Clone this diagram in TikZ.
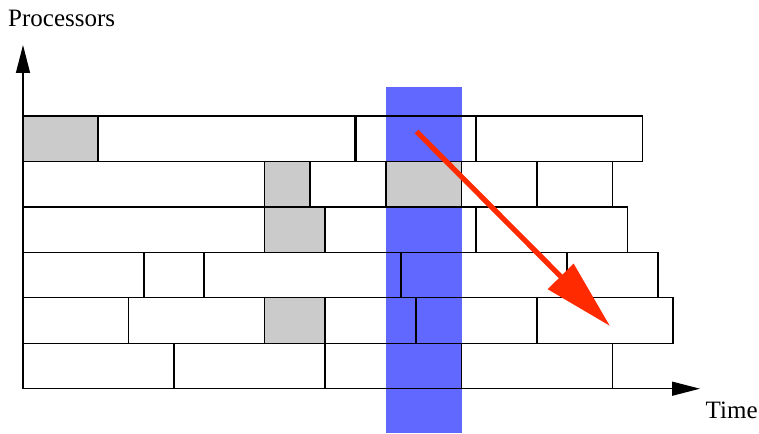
\documentclass[tikz,border=0pt]{standalone}
\usepackage{fontspec}
\setmainfont{Liberation Serif}
\usetikzlibrary{arrows.meta}
\definecolor{bandblue}{RGB}{96,104,255}
\definecolor{cellgray}{RGB}{203,203,203}
\definecolor{arrowred}{RGB}{255,42,0}
\begin{document}
\begin{tikzpicture}[x=1pt,y=-1pt,
  cell/.style={draw=black,line width=1.3pt},
  graycell/.style={fill=cellgray},
  axis/.style={draw=black,line width=1.4pt,-{Triangle[length=28pt,width=14pt]}},
  label/.style={inner sep=0pt,font=\fontsize{25}{29}\selectfont},
  flow/.style={draw=arrowred,line width=5.2pt,-{Triangle[length=70pt,width=35pt]}}]
\useasboundingbox (0,0) rectangle (759,433);
% row boundaries
\def\ya{116}\def\yb{161.45}\def\yc{206.9}\def\yd{252.35}\def\ye{297.8}\def\yf{343.25}\def\yg{388.7}
% blue band
\fill[bandblue] (386,87) rectangle (461.5,433);
% gray cells
\fill[graycell] (23,\ya) rectangle (98,\yb);
\fill[graycell] (264.5,\yb) rectangle (310,\yc);
\fill[graycell] (386,\yb) rectangle (461.5,\yc);
\fill[graycell] (264.5,\yc) rectangle (325,\yd);
\fill[graycell] (264.5,\ye) rectangle (325,\yf);
% row 1
\draw[cell] (23,\ya) rectangle (98,\yb);
\draw[cell] (98,\ya) rectangle (355,\yb);
\draw[cell] (356.5,\ya) rectangle (476,\yb);
\draw[cell] (476,\ya) rectangle (642.5,\yb);
% row 2
\draw[cell] (23,\yb) rectangle (264.5,\yc);
\draw[cell] (264.5,\yb) rectangle (310,\yc);
\draw[cell] (310,\yb) rectangle (386,\yc);
\draw[cell] (386,\yb) rectangle (461.5,\yc);
\draw[cell] (461.5,\yb) rectangle (537,\yc);
\draw[cell] (537,\yb) rectangle (612.5,\yc);
% row 3
\draw[cell] (23,\yc) rectangle (264.5,\yd);
\draw[cell] (264.5,\yc) rectangle (325,\yd);
\draw[cell] (325,\yc) rectangle (476,\yd);
\draw[cell] (476,\yc) rectangle (627.5,\yd);
% row 4
\draw[cell] (23,\yd) rectangle (144,\ye);
\draw[cell] (144,\yd) rectangle (204,\ye);
\draw[cell] (204,\yd) rectangle (401,\ye);
\draw[cell] (401,\yd) rectangle (567,\ye);
\draw[cell] (567,\yd) rectangle (658,\ye);
% row 5
\draw[cell] (23,\ye) rectangle (128.5,\yf);
\draw[cell] (128.5,\ye) rectangle (264.5,\yf);
\draw[cell] (264.5,\ye) rectangle (325,\yf);
\draw[cell] (325,\ye) rectangle (416,\yf);
\draw[cell] (416,\ye) rectangle (537,\yf);
\draw[cell] (537,\ye) rectangle (673,\yf);
% row 6
\draw[cell] (23,\yf) rectangle (174,\yg);
\draw[cell] (174,\yf) rectangle (325,\yg);
\draw[cell] (325,\yf) rectangle (461.5,\yg);
\draw[cell] (461.5,\yf) rectangle (612.5,\yg);
% axes
\coordinate (origin) at (23,\yg);
\coordinate (ytip) at (23,45);
\coordinate (xtip) at (700,\yg);
\draw[axis] (origin) -- (ytip);
\draw[axis] (origin) -- (xtip);
\node[label,anchor=base west] (proc) at (8,26.7) {Processors};
\node[label,anchor=base west] (time) at (705.5,418.7) {Time};
% red arrow
\coordinate (rs) at (416.5,131.5);
\coordinate (re) at (610,326);
\draw[flow] (rs) -- (re);
\end{tikzpicture}
\end{document}
